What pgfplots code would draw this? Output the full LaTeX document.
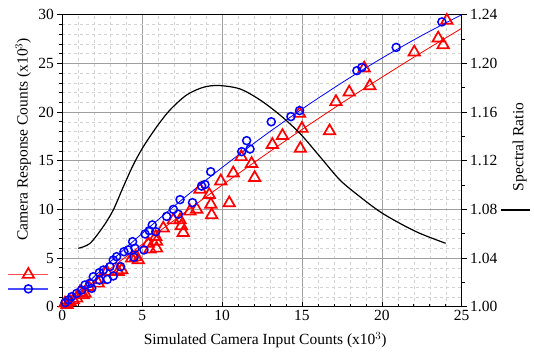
\documentclass[border=0pt]{standalone}
\usepackage{pgfplots}
\pgfplotsset{compat=1.18}
\usepackage{fontspec}
\setmainfont{Liberation Serif}
\tikzset{myfont/.style={font=\fontsize{15.5}{17}\selectfont}}
\begin{document}
\begin{tikzpicture}
\path[use as bounding box] (-62.3pt,-49.3pt) rectangle (471.7pt,306.7pt);
\begin{axis}[
  at={(0,0)}, anchor=south west, scale only axis,
  width=399.4pt, height=292pt,
  xmin=0, xmax=25, ymin=0, ymax=30,
  xtick={0,5,10,15,20,25}, ytick={0,5,10,15,20,25,30},
  minor x tick num=4, minor y tick num=4,
  xtick pos=bottom, ytick pos=left,
  xtick align=inside, ytick align=outside,
  major tick length=5pt, minor tick length=3pt,
  grid=both,
  major grid style={gray!75, line width=0.6pt},
  minor grid style={gray!35, dashed, line width=0.4pt},
  axis line style={line width=0.8pt},
  tick style={black, line width=0.6pt},
  /pgf/number format/assume math mode=true,
  ticklabel style={myfont},
  label style={myfont},
  xlabel={Simulated Camera Input Counts (x10$^{3}$)},
  ylabel={Camera Response Counts (x10$^{3}$)},
  xlabel style={at={(rel axis cs:0.508,-0.114)}, anchor=center},
  ylabel style={at={(rel axis cs:-0.098,0.573)}, anchor=center},
  legend style={at={(-0.08,0.09)}, anchor=center, draw=none, fill=none, row sep=7pt, inner sep=0pt},
  legend cell align=left,
  legend image code/.code={\draw[mark repeat=2,mark phase=2,#1] plot coordinates {(0pt,0pt) (20pt,0pt) (40pt,0pt)};},
]
% red triangles
\addplot[forget plot, only marks, mark=triangle, mark size=6.6pt, red, line width=1.7pt, mark options={fill=white}] coordinates {
(24.07,29.4) (23.53,27.58) (23.84,26.9) (22.03,26.15) (18.9,24.5) (19.25,22.68)
(17.96,22.03) (17.13,21.05) (16.73,18.05) (15.0,18.3) (14.9,16.25) (14.85,19.85)
(13.78,17.56) (13.15,16.65) (11.2,15.4) (11.85,14.7) (10.7,13.72) (12.04,13.25)
(9.92,12.9) (8.62,12.05) (9.2,11.5) (9.35,9.42) (9.3,10.5) (10.45,10.65)
(8.41,10.0) (7.99,9.8) (7.37,8.91) (7.45,8.3) (7.57,7.6) (6.95,8.9)
(6.32,8.06) (5.9,6.7) (5.38,6.5) (5.9,6.0) (5.85,7.19) (5.49,5.9)
(4.76,4.8) (4.34,4.97) (4.6,5.1) (3.72,3.77) (3.5,3.6) (2.78,3.6)
(2.36,2.74) (2.25,2.4) (1.63,2.06) (1.42,1.37) (1.31,1.2) (1.1,1.5)
(0.9,0.86) (0.69,0.69) (0.48,0.51) (0.17,0.35) (0.3,0.2)
};
% blue circles
\addplot[forget plot, only marks, mark=o, mark size=4pt, blue, line width=1.5pt, mark options={fill=white}] coordinates {
(23.76,29.26) (20.9,26.64) (18.44,24.25) (18.75,24.58) (14.85,20.15) (14.31,19.53)
(13.08,19.0) (11.54,17.06) (11.23,15.93) (11.75,16.2) (9.29,13.87) (8.93,12.55)
(8.72,12.4) (8.15,10.69) (7.37,11.0) (6.95,10.0) (7.26,9.5) (6.53,9.28)
(5.63,8.4) (5.85,7.71) (5.44,7.81) (5.18,7.47) (5.11,5.83) (4.4,6.68)
(4.55,6.0) (4.49,5.08) (4.13,5.83) (3.86,5.65) (3.4,5.14) (3.65,4.11)
(3.19,4.8) (2.98,4.11) (3.19,3.16) (2.82,2.81) (2.57,3.77) (2.32,3.5)
(1.94,3.08) (2.32,2.74) (1.73,2.4) (1.42,2.23) (1.84,1.89) (1.21,1.72)
(0.9,1.37) (0.59,1.03) (0.38,0.69) (0.17,0.41)
};
% fit lines
\addplot[forget plot, red, line width=0.8pt, smooth] coordinates {
(0,0) (2.5,3.25) (5,6.41) (7.5,9.49) (10,12.48) (12.5,15.38) (15,18.20)
(17.5,20.93) (20,23.57) (22.5,26.13) (25,28.60)
};
\addplot[forget plot, blue, line width=0.8pt, smooth] coordinates {
(0,0) (2.5,3.86) (5,7.53) (7.5,11.01) (10,14.30) (12.5,17.40) (15,20.30)
(17.5,23.01) (20,25.53) (22.5,27.86) (25,30.0)
};
\addlegendimage{red!70, line width=1.5pt, mark=triangle, mark size=6.6pt, mark options={red, line width=1.7pt, fill=white}}
\addlegendentry{}
\addlegendimage{blue!70, line width=1.3pt, mark=o, mark size=4pt, mark options={blue, line width=1.5pt, fill=white}}
\addlegendentry{}
\end{axis}
\begin{axis}[
  at={(0,0)}, anchor=south west, scale only axis,
  width=399.4pt, height=292pt,
  xmin=0, xmax=25, ymin=1.00, ymax=1.24,
  axis x line=none, axis y line*=right,
  y axis line style={-, line width=0.8pt},
  ytick={1.00,1.04,1.08,1.12,1.16,1.20,1.24},
  minor y tick num=1,
  ytick align=outside, major tick length=5pt, minor tick length=3pt,
  tick style={black, line width=0.6pt},
  /pgf/number format/assume math mode=true,
  yticklabel style={myfont, /pgf/number format/fixed, /pgf/number format/fixed zerofill, /pgf/number format/precision=2},
  ylabel={Spectral Ratio},
  ylabel style={myfont, at={(rel axis cs:1.145,0.547)}, anchor=center},
  legend style={at={(1.139,0.331)}, anchor=center, draw=none, fill=none, inner sep=0pt},
  legend image code/.code={\draw[#1] (0pt,0pt) -- (29pt,0pt);},
]
\addplot[black, line width=1.2pt, smooth] coordinates {
(1.0,1.048) (1.73,1.052) (2.57,1.066) (3.19,1.0795) (3.82,1.0986) (4.44,1.1165)
(5.07,1.1315) (5.91,1.1479) (6.74,1.1617) (7.78,1.174) (8.82,1.1803) (9.8,1.1818)
(11.12,1.1790) (12.37,1.170) (13.62,1.1576) (14.87,1.1425) (16.13,1.1233)
(17.38,1.1041) (18.63,1.0904) (19.88,1.0781) (21.13,1.0685) (22.38,1.0603) (23.99,1.0521)
};
\addlegendentry{}
\end{axis}
\end{tikzpicture}
\end{document}
